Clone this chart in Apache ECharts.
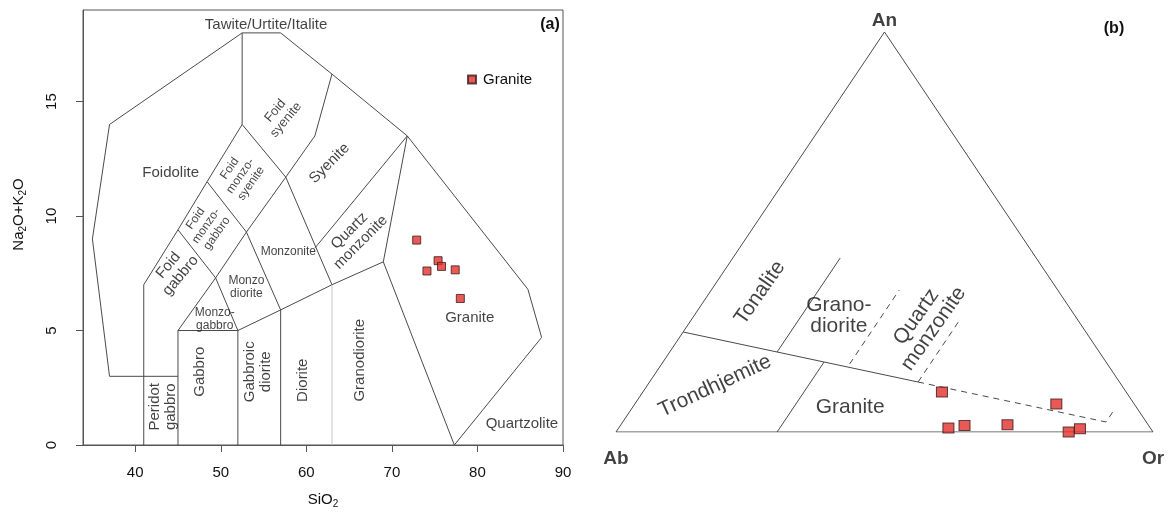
<!DOCTYPE html>
<html>
<head>
<meta charset="utf-8">
<script src="https://cdn.jsdelivr.net/npm/echarts@6/dist/echarts.min.js"></script>
<style>
  html, body { margin: 0; padding: 0; background: #fff; }
  #main { width: 1171px; height: 514px; }
</style>
</head>
<body>
<div id="main"></div>
<script>
// ---- (a) TAS, plutonic (Middlemost 1994) ----
var sio2 = [72.9, 75.4, 75.8, 74.1, 77.4, 78.0];
var alkali = [8.95, 8.05, 7.8, 7.6, 7.65, 6.4];
var xTicks = [40, 50, 60, 70, 80, 90];
var yTicks = [0, 5, 10, 15];

// field boundaries, [SiO2, Na2O+K2O]
var tasLines = [
  [[37, 3], [35, 9], [37, 14], [52.5, 18], [57, 18], [63, 16.2], [71.8, 13.5], [85.9, 6.8], [87.5, 4.7], [77.3, 0]],
  [[37, 3], [45, 3]],
  [[41, 0], [41, 7], [45, 9.4], [48.4, 11.5], [52.5, 14], [52.5, 18]],
  [[45, 0], [45, 5], [52, 5], [52, 0]],
  [[52, 5], [57, 5.9], [63, 7], [69, 8], [71.8, 13.5]],
  [[57, 0], [57, 5.9]],
  [[69, 8], [77.3, 0]],
  [[45, 5], [49.4, 7.3], [53, 9.3], [57.6, 11.7], [52.5, 14]],
  [[45, 9.4], [49.4, 7.3], [52, 5]],
  [[48.4, 11.5], [53, 9.3], [57, 5.9]],
  [[63, 16.2], [61, 13.5], [57.6, 11.7], [63, 7]],
  [[71.8, 13.5], [61, 8.6]]
];
var tasGreyLine = [[63, 0], [63, 7]];

// field names (label anchor in data units)
var tasLabels = [
  { t: 'Tawite/Urtite/Italite', at: [55.3, 18.35], rot: 0, fs: 15 },
  { t: 'Foidolite', at: [44.15, 11.9], rot: 0, fs: 15 },
  { t: 'Foid\nsyenite', at: [57.0, 14.4], rot: 50, fs: 13 },
  { t: 'Foid\nmonzo-\nsyenite', at: [52.3, 11.75], rot: 55, fs: 12 },
  { t: 'Foid\nmonzo-\ngabbro', at: [48.3, 9.57], rot: 55, fs: 12 },
  { t: 'Foid\ngabbro', at: [44.6, 7.62], rot: 50, fs: 15 },
  { t: 'Monzonite', at: [57.9, 8.44], rot: 0, fs: 12 },
  { t: 'Monzo\ndiorite', at: [53.0, 6.9], rot: 0, fs: 12 },
  { t: 'Monzo-\ngabbro', at: [49.3, 5.5], rot: 0, fs: 12 },
  { t: 'Syenite', at: [62.7, 12.3], rot: 45, fs: 15 },
  { t: 'Quartz\nmonzonite', at: [65.7, 9.1], rot: 45, fs: 15 },
  { t: 'Peridot\ngabbro', at: [43.2, 1.67], rot: 90, fs: 15 },
  { t: 'Gabbro', at: [47.6, 3.2], rot: 90, fs: 15 },
  { t: 'Gabbroic\ndiorite', at: [54.3, 3.2], rot: 90, fs: 15 },
  { t: 'Diorite', at: [59.55, 2.83], rot: 90, fs: 15 },
  { t: 'Granodiorite', at: [66.3, 3.7], rot: 90, fs: 15 },
  { t: 'Granite', at: [79.1, 5.54], rot: 0, fs: 15 },
  { t: 'Quartzolite', at: [85.2, 0.94], rot: 0, fs: 15 }
];

// ---- (b) An-Ab-Or (O'Connor 1965), in % ----
var anPct = [7.0, 10.0, 1.0, 1.6, 1.8, 0.0, 0.8];
var abPct = [14.5, 34.3, 37.6, 34.3, 26.2, 15.7, 13.2];
var orPct = [78.5, 55.7, 61.4, 64.1, 72.0, 84.3, 86.0];

// [An, Ab, Or]
var ternEdge = [[100, 0, 0], [0, 100, 0], [0, 0, 100], [100, 0, 0]];
var ternSolid = [
  [[25, 75, 0], [12.5, 37.5, 50]],
  [[20, 60, 20], [43.5, 36.5, 20]],
  [[0, 70, 30], [17.5, 52.5, 30]]
];
var ternDashed = [
  [[12.5, 37.5, 50], [2.5, 7.5, 90], [5.5, 4.5, 90]],
  [[17, 48, 35], [35.5, 29.5, 35]],
  [[12.5, 37.5, 50], [27.5, 22.5, 50]]
];
var ternLabels = [
  { t: 'Tonalite', at: [34.8, 55.8, 9.4], rot: 55 },
  { t: 'Grano-\ndiorite', at: [29, 44, 27], rot: 0 },
  { t: 'Quartz\nmonzonite', at: [27.3, 28.8, 43.9], rot: 55 },
  { t: 'Trondhjemite', at: [11.5, 75.8, 12.7], rot: 25 },
  { t: 'Granite', at: [6.2, 53.3, 40.5], rot: 0 }
];
var ternApex = [
  { t: 'An', at: [100, 0, 0], pos: 'top', d: 1 },
  { t: 'Ab', at: [0, 100, 0], pos: 'bottom', d: 17 },
  { t: 'Or', at: [0, 0, 100], pos: 'bottom', d: 17 }
];

var FONT = '"Liberation Sans", Arial, sans-serif';
var INK = '#111';
var LINE = '#4a4a4a';
var RED = '#e3302b';

function tern(p) {
  // p = [An, Ab, Or] -> x along Ab-Or base, y = An
  return [(p[2] + p[0] / 2) / 100, p[0] / 100];
}

var dom = document.getElementById('main');
var myChart = echarts.init(dom, null, { renderer: 'canvas' });

var subRich = {
  n: { fontSize: 15, fontFamily: FONT, color: INK, lineHeight: 18 },
  s: { fontSize: 10, fontFamily: FONT, color: INK, lineHeight: 10, verticalAlign: 'bottom' }
};

var option = {
  animation: false,
  backgroundColor: '#fff',
  textStyle: { fontFamily: FONT },
  grid: [
    { left: 83, top: 10, width: 480, height: 437, show: true, borderColor: '#555', borderWidth: 1 },
    { left: 616, top: 32, width: 537, height: 400 }
  ],
  legend: {
    data: [{ name: 'Granite', icon: 'rect' }],
    left: 467, top: 72, padding: 0,
    itemWidth: 8, itemHeight: 8,
    textStyle: { fontSize: 15, color: INK, fontFamily: FONT, padding: [0, 0, 0, 2] },
    selectedMode: false
  },
  xAxis: [
    {
      gridIndex: 0, type: 'value', min: 33.9, max: 90,
      axisLine: { show: true, onZero: false, lineStyle: { color: '#555' } },
      axisTick: { show: true, length: 7, customValues: xTicks, lineStyle: { color: '#555' } },
      axisLabel: { customValues: xTicks, margin: 20, fontSize: 15, color: INK, fontFamily: FONT },
      splitLine: { show: false },
      name: '{n|SiO}{s|2}', nameLocation: 'middle', nameGap: 46,
      nameTextStyle: { rich: subRich }
    },
    { gridIndex: 1, type: 'value', min: 0, max: 1, show: false }
  ],
  yAxis: [
    {
      gridIndex: 0, type: 'value', min: 0, max: 19,
      axisLine: { show: true, lineStyle: { color: '#555' } },
      axisTick: { show: true, length: 7, customValues: yTicks, lineStyle: { color: '#555' } },
      axisLabel: { customValues: yTicks, rotate: 90, margin: 24, fontSize: 15, color: INK, fontFamily: FONT },
      splitLine: { show: false },
      name: '{n|Na}{s|2}{n|O+K}{s|2}{n|O}', nameLocation: 'middle', nameRotate: 90, nameGap: 55,
      nameTextStyle: { rich: subRich, padding: [0, 0, 0, 26] }
    },
    { gridIndex: 1, type: 'value', min: 0, max: 1, show: false }
  ],
  graphic: [
    { type: 'text', x: 550, y: 25, style: { text: '(a)', align: 'center', verticalAlign: 'middle', font: 'bold 16px ' + FONT, fill: INK } },
    { type: 'text', x: 1114, y: 29, style: { text: '(b)', align: 'center', verticalAlign: 'middle', font: 'bold 16px ' + FONT, fill: INK } }
  ],
  series: [
    {
      type: 'lines', coordinateSystem: 'cartesian2d', xAxisIndex: 0, yAxisIndex: 0,
      polyline: true, silent: true,
      lineStyle: { color: LINE, width: 1, opacity: 1 },
      data: tasLines.map(function (c) { return { coords: c }; })
    },
    {
      type: 'lines', coordinateSystem: 'cartesian2d', xAxisIndex: 0, yAxisIndex: 0,
      polyline: true, silent: true,
      lineStyle: { color: '#c8c8c8', width: 1, opacity: 1 },
      data: [{ coords: tasGreyLine }]
    },
    {
      type: 'scatter', xAxisIndex: 0, yAxisIndex: 0, silent: true, symbolSize: 1,
      itemStyle: { color: 'rgba(0,0,0,0)' },
      label: { show: true, position: 'inside', formatter: '{b}', color: INK, fontFamily: FONT },
      data: tasLabels.map(function (l) {
        return { name: l.t, value: l.at, label: { rotate: l.rot, fontSize: l.fs, lineHeight: l.fs + 1 } };
      })
    },
    {
      name: 'Granite', type: 'scatter', xAxisIndex: 0, yAxisIndex: 0,
      symbol: 'rect', symbolSize: 8, clip: false,
      itemStyle: { color: RED, borderColor: '#3a1d1d', borderWidth: 1 },
      data: sio2.map(function (x, i) { return [x, alkali[i]]; })
    },
    // ternary
    {
      type: 'lines', coordinateSystem: 'cartesian2d', xAxisIndex: 1, yAxisIndex: 1,
      polyline: true, silent: true,
      lineStyle: { color: LINE, width: 1, opacity: 1 },
      data: [ternEdge].concat(ternSolid).map(function (c) { return { coords: c.map(tern) }; })
    },
    {
      type: 'lines', coordinateSystem: 'cartesian2d', xAxisIndex: 1, yAxisIndex: 1,
      polyline: true, silent: true,
      lineStyle: { color: LINE, width: 1, opacity: 1, type: [6, 5] },
      data: ternDashed.map(function (c) { return { coords: c.map(tern) }; })
    },
    {
      type: 'scatter', xAxisIndex: 1, yAxisIndex: 1, silent: true, symbolSize: 1, clip: false,
      itemStyle: { color: 'rgba(0,0,0,0)' },
      label: { show: true, position: 'inside', formatter: '{b}', color: INK, fontFamily: FONT, fontSize: 21, lineHeight: 21 },
      data: ternLabels.map(function (l) {
        return { name: l.t, value: tern(l.at), label: { rotate: l.rot } };
      })
    },
    {
      type: 'scatter', xAxisIndex: 1, yAxisIndex: 1, silent: true, symbolSize: 1, clip: false,
      itemStyle: { color: 'rgba(0,0,0,0)' },
      label: { show: true, formatter: '{b}', color: INK, fontFamily: FONT, fontSize: 19, fontWeight: 'bold' },
      data: ternApex.map(function (l) {
        return { name: l.t, value: tern(l.at), label: { position: l.pos, distance: l.d } };
      })
    },
    {
      name: 'Granite', type: 'scatter', xAxisIndex: 1, yAxisIndex: 1,
      symbol: 'rect', symbolSize: [11, 10], clip: false,
      itemStyle: { color: RED, borderColor: '#3a1d1d', borderWidth: 1 },
      data: anPct.map(function (a, i) { return tern([a, abPct[i], orPct[i]]); })
    }
  ]
};

myChart.setOption(option);
window.addEventListener('resize', myChart.resize);
</script>
</body>
</html>
